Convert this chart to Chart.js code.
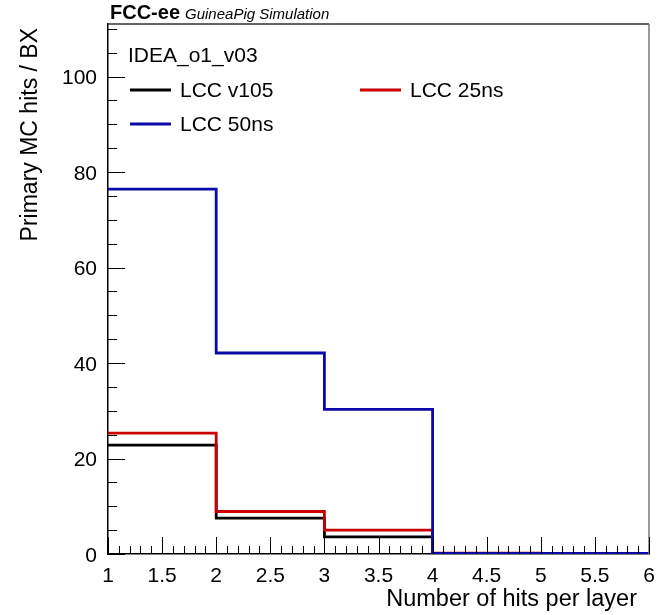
<!DOCTYPE html>
<html>
<head>
<meta charset="utf-8">
<script src="https://cdn.jsdelivr.net/npm/chart.js@4.4.1/dist/chart.umd.min.js"></script>
<style>
html,body{margin:0;padding:0;background:#fff;}
#wrap{width:658px;height:615px;position:relative;}
</style>
</head>
<body>
<div id="wrap"><canvas id="c" width="658" height="615"></canvas></div>
<script>
// ---- data ----
const binEdges = [1, 2, 3, 4, 5, 6];
const seriesLabels = ["LCC v105", "LCC 25ns", "LCC 50ns"];
const lccV105 = [22.8, 7.5, 3.6, 0.1, 0.05];
const lcc25ns = [25.3, 8.9, 5.0, 0.2, 0.05];
const lcc50ns = [76.4, 42.1, 30.3, 0.1, 0.1];
const seriesColors = ["#000000", "#cc0000", "#0a0aa8"];
const xTickLabels = ["1", "1.5", "2", "2.5", "3", "3.5", "4", "4.5", "5", "5.5", "6"];
const yTickLabels = ["0", "20", "40", "60", "80", "100"];
const headerBold = "FCC-ee";
const headerItalic = "GuineaPig Simulation";
const legendTitle = "IDEA_o1_v03";
const xTitle = "Number of hits per layer";
const yTitle = "Primary MC hits / BX";

const FONT = "'Liberation Sans', Arial, Helvetica, sans-serif";

function histPoints(vals) {
  const pts = vals.map((v, i) => ({x: binEdges[i], y: v}));
  pts.push({x: binEdges[binEdges.length - 1], y: vals[vals.length - 1]});
  return pts;
}

const allSeries = [lccV105, lcc25ns, lcc50ns];
const datasets = allSeries.map((vals, i) => ({
  label: seriesLabels[i],
  data: histPoints(vals),
  borderColor: seriesColors[i],
  backgroundColor: seriesColors[i],
  borderWidth: 2.8,
  stepped: 'before',
  pointRadius: 0,
  fill: false,
  order: 3 - i
}));

const rootStyle = {
  id: 'rootStyle',
  afterDraw(chart) {
    const ctx = chart.ctx;
    const xs = chart.scales.x, ys = chart.scales.y;
    const a = chart.chartArea;
    ctx.save();
    // frame top / right
    ctx.lineWidth = 1.5;
    ctx.strokeStyle = '#333';
    ctx.beginPath();
    ctx.moveTo(a.left, a.top); ctx.lineTo(a.right, a.top);
    ctx.stroke();
    ctx.strokeStyle = '#777';
    ctx.beginPath();
    ctx.moveTo(a.right, a.top); ctx.lineTo(a.right, a.bottom);
    ctx.stroke();
    // ticks
    ctx.strokeStyle = '#000';
    ctx.lineWidth = 1;
    ctx.beginPath();
    for (let k = 0; k <= 50; k++) {
      const v = binEdges[0] + k * 0.1;
      const px = Math.round(xs.getPixelForValue(v)) + 0.5;
      const len = (k % 5 === 0) ? 17 : 8;
      ctx.moveTo(px, a.bottom); ctx.lineTo(px, a.bottom - len);
    }
    for (let k = 0; k * 5 <= ys.max; k++) {
      const v = k * 5;
      const py = Math.round(ys.getPixelForValue(v)) + 0.5;
      const len = (k % 4 === 0) ? 17 : 9;
      ctx.moveTo(a.left, py); ctx.lineTo(a.left + len, py);
    }
    ctx.stroke();
    // header
    ctx.fillStyle = '#000';
    ctx.textBaseline = 'alphabetic';
    ctx.textAlign = 'left';
    ctx.font = "bold 20px " + FONT;
    ctx.fillText(headerBold, a.left + 2, 19);
    const w = ctx.measureText(headerBold).width;
    ctx.font = "italic 15px " + FONT;
    ctx.fillText(headerItalic, a.left + w + 7, 19);
    // legend
    ctx.font = "21px " + FONT;
    ctx.textBaseline = 'middle';
    ctx.fillText(legendTitle, a.left + 20, 56);
    const entries = [
      {i: 0, x: a.left + 22, y: 90},
      {i: 1, x: a.left + 252, y: 90},
      {i: 2, x: a.left + 22, y: 124}
    ];
    entries.forEach(e => {
      ctx.strokeStyle = seriesColors[e.i];
      ctx.lineWidth = 2.8;
      ctx.beginPath();
      ctx.moveTo(e.x, e.y); ctx.lineTo(e.x + 41, e.y);
      ctx.stroke();
      ctx.fillStyle = '#000';
      ctx.fillText(seriesLabels[e.i], e.x + 50, e.y + 1);
    });
    // axis titles
    ctx.textAlign = 'right';
    ctx.textBaseline = 'alphabetic';
    ctx.font = "23.5px " + FONT;
    ctx.fillText(xTitle, a.right - 12, 606);
    ctx.font = "23px " + FONT;
    ctx.translate(37, a.top + 4);
    ctx.rotate(-Math.PI / 2);
    ctx.fillText(yTitle, 0, 0);
    ctx.restore();
  }
};

new Chart(document.getElementById('c'), {
  type: 'line',
  data: {datasets},
  plugins: [rootStyle],
  options: {
    responsive: false,
    animation: false,
    devicePixelRatio: 1,
    layout: {padding: {top: 24, right: 9, left: 0, bottom: 0}},
    plugins: {legend: {display: false}, tooltip: {enabled: false}, title: {display: false}},
    scales: {
      x: {
        type: 'linear', min: 1, max: 6,
        afterFit(s) { s.height = 61; s.paddingLeft = 0; s.paddingRight = 0; },
        afterBuildTicks(s) { s.ticks = xTickLabels.map(t => ({value: parseFloat(t)})); },
        ticks: {
          callback: (v) => xTickLabels.find(t => parseFloat(t) === v) || '',
          font: {family: FONT, size: 21}, color: '#000', padding: 10, maxRotation: 0, autoSkip: false
        },
        grid: {display: false, drawTicks: false},
        border: {display: true, color: '#000', width: 1.5}
      },
      y: {
        type: 'linear', min: 0, max: 111,
        afterFit(s) { s.width = 108; s.paddingTop = 0; s.paddingBottom = 0; },
        afterBuildTicks(s) { s.ticks = yTickLabels.map(t => ({value: parseFloat(t)})); },
        ticks: {
          callback: (v) => yTickLabels.find(t => parseFloat(t) === v) || '',
          font: {family: FONT, size: 21}, color: '#000', padding: 11, labelOffset: 2
        },
        grid: {display: false, drawTicks: false},
        border: {display: true, color: '#000', width: 1.5}
      }
    }
  }
});
</script>
</body>
</html>
